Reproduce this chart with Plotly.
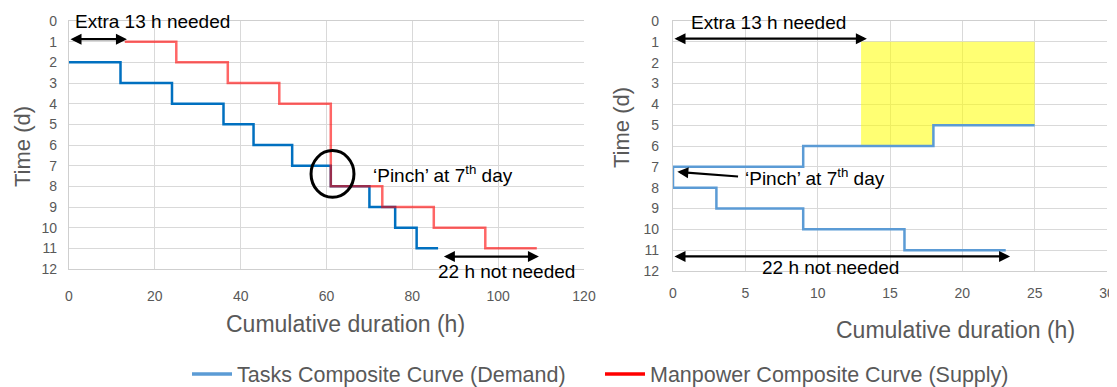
import plotly.graph_objects as go

W, H = 1117, 387
OFF = 8  # the page body adds an 8 px margin around the figure
FONT = "Arial, Liberation Sans, sans-serif"
GRAY = "#595959"
GRID = "#d9d9d9"

# left chart: composite curves, steps drawn horizontal-then-vertical
demand_x = [0, 12, 24, 36, 43, 52, 61, 70, 76, 81, 86]
demand_y = [2, 3, 4, 5, 6, 7, 8, 9, 10, 11, 11]
supply_x = [13, 25, 37, 49, 61, 73, 85, 97, 109]
supply_y = [1, 2, 3, 4, 8, 9, 10, 11, 11]

# right chart: shifted demand curve and the extra-hours area
shifted_x = [25, 18, 9, 0, 3, 9, 16, 23]
shifted_y = [5, 6, 7, 8, 9, 10, 11, 11]
extra_x = [13, 25, 25, 18, 18, 13]
extra_y = [1, 1, 5, 5, 6, 6]

left_ticks = [0, 20, 40, 60, 80, 100, 120]
right_ticks = [0, 5, 10, 15, 20, 25, 30]
day_ticks = list(range(0, 13))


def px(x):
    return (x - OFF) / W


def py(y):
    return 1 - (y - OFF) / H


fig = go.Figure()

fig.add_trace(go.Scatter(x=demand_x, y=demand_y, mode="lines", line_shape="hv",
                         line=dict(color="#0070C0", width=2.5),
                         xaxis="x", yaxis="y", showlegend=False))
fig.add_trace(go.Scatter(x=supply_x, y=supply_y, mode="lines", line_shape="hv",
                         line=dict(color="rgba(255,0,0,0.6)", width=2.5),
                         xaxis="x", yaxis="y", showlegend=False))

fig.add_trace(go.Scatter(x=extra_x, y=extra_y, mode="lines", fill="toself",
                         fillcolor="rgba(255,255,0,0.55)", line=dict(width=0),
                         xaxis="x2", yaxis="y2", showlegend=False))
fig.add_trace(go.Scatter(x=shifted_x, y=shifted_y, mode="lines", line_shape="hv",
                         line=dict(color="#5B9BD5", width=2.5),
                         xaxis="x2", yaxis="y2", showlegend=False))

# legend entries only
fig.add_trace(go.Scatter(x=[None], y=[None], mode="lines", name="Tasks Composite Curve (Demand)",
                         line=dict(color="#5B9BD5", width=3.5), xaxis="x", yaxis="y"))
fig.add_trace(go.Scatter(x=[None], y=[None], mode="lines", name="Manpower Composite Curve (Supply)",
                         line=dict(color="#FF0000", width=3.5), xaxis="x", yaxis="y"))

axis_common = dict(showgrid=True, gridcolor=GRID, gridwidth=1.3, zeroline=False,
                   showline=True, linecolor="#cfcfcf", linewidth=1.3, automargin=False,
                   tickfont=dict(family=FONT, size=14, color=GRAY), fixedrange=True)

fig.update_layout(
    width=W, height=H,
    margin=dict(l=0, r=0, t=0, b=0, autoexpand=False),
    paper_bgcolor="white", plot_bgcolor="white",
    font=dict(family=FONT, color=GRAY),
    xaxis=dict(domain=[px(69), px(584)], range=[0, 120], tickvals=left_ticks,
               ticklabelstandoff=14, anchor="y", mirror=True, **axis_common),
    yaxis=dict(domain=[py(269), py(21)], range=[12, 0], tickvals=day_ticks,
               ticklabelstandoff=8, anchor="x", **axis_common),
    xaxis2=dict(domain=[px(673), px(1107)], range=[0, 30], tickvals=right_ticks,
                ticklabelstandoff=9, anchor="y2", mirror=True, **axis_common),
    yaxis2=dict(domain=[py(271), py(21)], range=[12, 0], tickvals=day_ticks,
                ticklabelstandoff=10, anchor="x2", **axis_common),
    legend=dict(orientation="h", x=px(600), xanchor="center", y=py(374), yanchor="middle",
                entrywidth=358, itemwidth=40,
                font=dict(family=FONT, size=21.5, color=GRAY), bgcolor="rgba(0,0,0,0)"),
)

# axis titles
titles = [
    ("Time (d)", 22, 147, -90),
    ("Time (d)", 621, 128, -90),
    ("Cumulative duration (h)", 345, 324, 0),
    ("Cumulative duration (h)", 956, 330, 0),
]
for text, x, y, angle in titles:
    fig.add_annotation(text=text, xref="paper", yref="paper", x=px(x), y=py(y),
                       xanchor="center", yanchor="middle",
                       showarrow=False, textangle=angle,
                       font=dict(family=FONT, size=23 if angle == 0 else 22, color=GRAY))

# double arrows
arrows = [
    ("x", "y", 0, 13.5, 0.88),
    ("x", "y", 87, 109.5, 11.4),
    ("x2", "y2", 0, 13.4, 0.85),
    ("x2", "y2", 0, 23.3, 11.3),
]
for xr, yr, x0, x1, yv in arrows:
    fig.add_annotation(xref=xr, yref=yr, axref=xr, ayref=yr, x=x1, y=yv, ax=x0, ay=yv,
                       text="", showarrow=True, arrowhead=2, arrowside="end+start",
                       arrowsize=1, arrowwidth=2.2, arrowcolor="black",
                       standoff=0, startstandoff=0)

# pinch arrow on right chart
fig.add_annotation(xref="x2", yref="y2", axref="x2", ayref="y2", x=0.3, y=7.24, ax=4.6, ay=7.47,
                   text="", showarrow=True, arrowhead=2, arrowsize=1, arrowwidth=2.2,
                   arrowcolor="black", standoff=0)

# in-chart texts, placed in page pixels
labels = [
    ("Extra 13 h needed", 152, 22),
    ("22 h not needed", 506, 271),
    ("‘Pinch’ at 7<sup>th</sup> day", 443, 174),
    ("Extra 13 h needed", 768, 23),
    ("22 h not needed", 830, 267),
    ("‘Pinch’ at 7<sup>th</sup> day", 815, 177),
]
for text, x, y in labels:
    fig.add_annotation(text=text, xref="paper", yref="paper", x=px(x), y=py(y),
                       xanchor="center", yanchor="middle",
                       showarrow=False, font=dict(family=FONT, size=19, color="black"))

# pinch circle
fig.add_shape(type="circle", xref="x", yref="y", x0=56.4, x1=66.4, y0=6.27, y1=8.53,
              line=dict(color="black", width=3))

fig.write_html("out.html")
